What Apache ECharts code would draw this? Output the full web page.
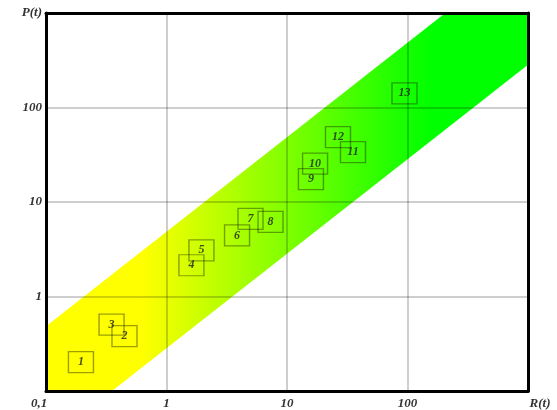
<!DOCTYPE html>
<html>
<head>
<meta charset="utf-8">
<script src="https://cdn.jsdelivr.net/npm/echarts@6/dist/echarts.min.js"></script>
<style>html,body{margin:0;padding:0;background:#fff}#c{width:557px;height:410px}</style>
</head>
<body>
<div id="c"></div>
<script>
// ---- data ----
const xTickLabels = ['0,1', '1', '10', '100', 'R(t)'];
const yTickLabels = ['', '1', '10', '100', 'P(t)'];
const bandPolygon = [[0.1, 0.1], [0.1, 0.485], [206, 1000], [1000, 1000], [1000, 283], [0.353, 0.1]];
const pointIds = ['1', '2', '3', '4', '5', '6', '7', '8', '9', '10', '11', '12', '13'];
const pointR = [0.195, 0.448, 0.35, 1.61, 1.95, 3.85, 4.98, 7.3, 15.8, 17.1, 35.3, 26.5, 94.4];
const pointP = [0.202, 0.38, 0.503, 2.14, 3.08, 4.43, 6.62, 6.15, 17.5, 25.5, 33.7, 48.5, 141];

const chart = echarts.init(document.getElementById('c'));
const labelFont = {fontFamily: 'Liberation Serif', fontStyle: 'italic', fontWeight: 'bold', fontSize: 13, color: '#333'};
const idx = v => Math.round(Math.log10(v)) + 1;
const bandFill = new echarts.graphic.LinearGradient(0, 0, 1, 0, [
  {offset: 0, color: '#ffff00'}, {offset: 0.2, color: '#ffff00'},
  {offset: 0.8, color: '#00ff00'}, {offset: 1, color: '#00ff00'}
]);
const frameLine = {show: true, lineStyle: {color: '#000', width: 3}};
const grid = {left: 46, right: 29, top: 13, bottom: 19};

chart.setOption({
  animation: false,
  backgroundColor: '#fff',
  grid: grid,
  xAxis: [{
    type: 'log', logBase: 10, min: 0.1, max: 1000, z: 5,
    axisLine: frameLine, axisTick: {show: false},
    splitLine: {show: true, lineStyle: {color: 'rgba(0,0,0,0.26)', width: 1.5}},
    axisLabel: Object.assign({}, labelFont, {
      margin: 6, showMinLabel: true, showMaxLabel: true,
      formatter: v => {
        const i = idx(v);
        const t = xTickLabels[i];
        if (i === 0) return '{a|' + t + '}';
        if (i === 4) return '{b|' + t + '}';
        return t;
      },
      rich: {
        a: Object.assign({}, labelFont, {padding: [0, 14, 0, 0]}),
        b: Object.assign({}, labelFont, {padding: [0, 0, 0, 24]})
      }
    })
  }, {
    type: 'log', logBase: 10, min: 0.1, max: 1000, position: 'top', z: 5,
    axisLine: frameLine, axisTick: {show: false}, axisLabel: {show: false}, splitLine: {show: false}
  }],
  yAxis: [{
    type: 'log', logBase: 10, min: 0.1, max: 1000, z: 5,
    axisLine: frameLine, axisTick: {show: false},
    splitLine: {show: true, lineStyle: {color: 'rgba(0,0,0,0.26)', width: 1.5}},
    axisLabel: Object.assign({}, labelFont, {
      margin: 4, showMinLabel: true, showMaxLabel: true,
      formatter: v => yTickLabels[idx(v)]
    })
  }, {
    type: 'log', logBase: 10, min: 0.1, max: 1000, position: 'right', z: 5,
    axisLine: frameLine, axisTick: {show: false}, axisLabel: {show: false}, splitLine: {show: false}
  }],
  series: [{
    type: 'custom', z: 1, silent: true,
    xAxisIndex: 0, yAxisIndex: 0,
    data: [[bandPolygon[0][0], bandPolygon[0][1]]],
    renderItem: (params, api) => ({
      type: 'polygon',
      shape: {points: bandPolygon.map(p => api.coord(p))},
      style: {fill: bandFill}
    })
  }, {
    type: 'scatter', z: 6, xAxisIndex: 0, yAxisIndex: 0,
    symbol: 'rect', symbolSize: [25, 21],
    itemStyle: {color: 'rgba(0,0,0,0)', borderColor: 'rgba(30,40,0,0.55)', borderWidth: 1.3},
    label: {show: true, position: 'inside', formatter: p => p.name,
      fontFamily: 'Liberation Serif', fontStyle: 'italic', fontWeight: 'bold', fontSize: 12, color: '#222'},
    data: pointIds.map((id, i) => ({name: id, value: [pointR[i], pointP[i]]}))
  }]
});
</script>
</body>
</html>
